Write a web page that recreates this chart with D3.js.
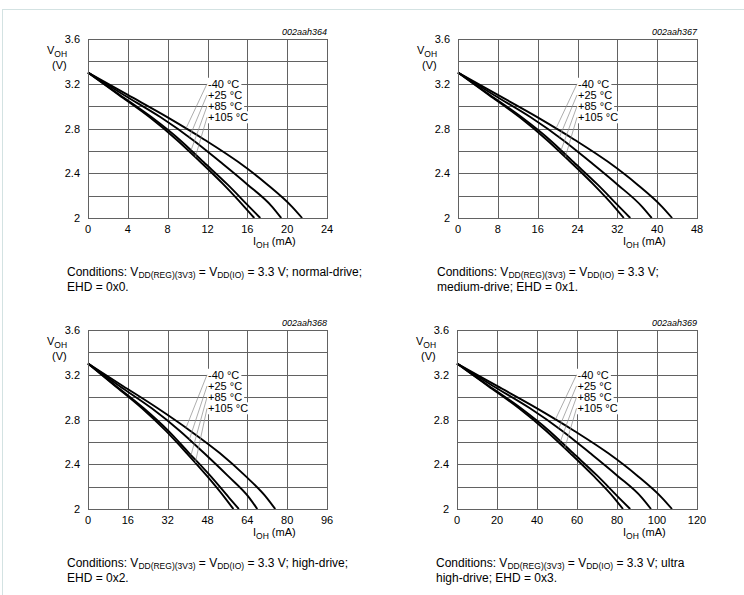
<!DOCTYPE html>
<html>
<head>
<meta charset="utf-8">
<script src="https://cdn.jsdelivr.net/npm/d3@7"></script>
<style>
  body { margin: 0; background: #fff; }
  svg text { font-family: Arial, "Liberation Sans", sans-serif; fill: #000; }
</style>
</head>
<body>
<div id="chart"></div>
<script>
var vLevels = [3.3, 3.1, 2.9, 2.7, 2.5, 2.3, 2.1, 2.0];
var temps = ["-40 °C", "+25 °C", "+85 °C", "+105 °C"];

// I_OH (mA) at each voltage level, one row per temperature
var normalI = [
  [0, 4.0, 8.0, 11.7, 15.1, 18.0, 20.5, 21.5],
  [0, 3.6, 7.3, 10.5, 13.3, 16.0, 18.5, 19.4],
  [0, 3.2, 6.4, 9.2, 11.6, 14.0, 16.2, 17.3],
  [0, 3.1, 6.2, 8.9, 11.3, 13.6, 15.7, 16.7]
];
var mediumI = [
  [0, 8.0, 16.0, 23.4, 30.2, 36.0, 41.0, 43.0],
  [0, 7.2, 14.6, 21.0, 26.6, 32.0, 37.0, 38.9],
  [0, 6.4, 12.8, 18.4, 23.2, 28.0, 32.4, 34.6],
  [0, 6.2, 12.4, 17.8, 22.6, 27.2, 31.4, 33.3]
];
var highI = [
  [0, 14.0, 28.0, 41.0, 52.9, 63.0, 71.8, 75.2],
  [0, 12.6, 25.6, 36.8, 46.6, 56.0, 64.8, 68.0],
  [0, 11.2, 22.4, 32.2, 40.6, 49.0, 56.7, 60.6],
  [0, 10.9, 21.7, 31.2, 39.6, 47.6, 55.0, 58.4]
];
var ultraI = [
  [0, 20.0, 40.0, 58.5, 75.5, 90.0, 102.5, 107.5],
  [0, 18.0, 36.5, 52.5, 66.5, 80.0, 92.5, 97.0],
  [0, 16.0, 32.0, 46.0, 58.0, 70.0, 81.0, 86.6],
  [0, 15.5, 31.0, 44.5, 56.5, 68.0, 78.5, 83.0]
];

var chartIds = ["002aah364", "002aah367", "002aah368", "002aah369"];
var xMax = [24, 48, 96, 120];
var xStep = [4, 8, 16, 20];
var yTicks = [2, 2.4, 2.8, 3.2, 3.6];
var yGrid = [2, 2.2, 2.4, 2.6, 2.8, 3.0, 3.2, 3.4, 3.6];
var labelV = [3.2, 3.1, 3.0, 2.9];
var leaderAt = [0.41, 0.424, 0.431, 0.449];   // where leaders touch curves (fraction of x axis)

var capLine1End = ["= 3.3 V; normal-drive;", "= 3.3 V;", "= 3.3 V; high-drive;", "= 3.3 V; ultra"];
var capLine2 = ["EHD = 0x0.", "medium-drive; EHD = 0x1.", "EHD = 0x2.", "high-drive; EHD = 0x3."];

var allI = [normalI, mediumI, highI, ultraI];

// plot boxes
var boxes = [
  {left: 88, right: 327, top: 39, bottom: 218},
  {left: 458, right: 697, top: 39, bottom: 218},
  {left: 88, right: 327, top: 330, bottom: 509},
  {left: 457, right: 697, top: 330, bottom: 509}
];

var svg = d3.select("#chart").append("svg")
  .attr("width", 744)
  .attr("height", 595);

// light page frame
svg.append("rect")
  .attr("x", 2.5).attr("y", 9.5)
  .attr("width", 800).attr("height", 700)
  .attr("fill", "none")
  .attr("stroke", "#d3e2e2")
  .attr("stroke-width", 1);

// V at a given current on a curve (linear between read points)
function vAt(currents, I) {
  for (var k = 0; k < currents.length - 1; k++) {
    if (I >= currents[k] && I <= currents[k + 1]) {
      var t = (I - currents[k]) / (currents[k + 1] - currents[k]);
      return vLevels[k] + t * (vLevels[k + 1] - vLevels[k]);
    }
  }
  return vLevels[vLevels.length - 1];
}

function drawChart(n) {
  var b = boxes[n];
  var x = d3.scaleLinear().domain([0, xMax[n]]).range([b.left, b.right]);
  var y = d3.scaleLinear().domain([2, 3.6]).range([b.bottom, b.top]);
  var g = svg.append("g");

  var xTicks = d3.range(0, xMax[n] + 0.001, xStep[n]);

  // grid
  g.selectAll(".hg").data(yGrid).enter().append("line")
    .attr("x1", b.left).attr("x2", b.right)
    .attr("y1", d => Math.round(y(d)) + 0.5).attr("y2", d => Math.round(y(d)) + 0.5)
    .attr("stroke", "#626262").attr("stroke-width", 1);
  g.selectAll(".vg").data(xTicks).enter().append("line")
    .attr("y1", b.top).attr("y2", b.bottom)
    .attr("x1", d => Math.round(x(d)) + 0.5).attr("x2", d => Math.round(x(d)) + 0.5)
    .attr("stroke", "#626262").attr("stroke-width", 1);

  // tick labels
  g.selectAll(".yt").data(yTicks).enter().append("text")
    .attr("x", b.left - 8).attr("y", d => y(d) + 4)
    .attr("text-anchor", "end")
    .attr("font-size", 11)
    .text(d => d3.format("~g")(d));
  g.selectAll(".xt").data(xTicks).enter().append("text")
    .attr("x", d => x(d)).attr("y", b.bottom + 15)
    .attr("text-anchor", "middle")
    .attr("font-size", 11)
    .text(d => d);

  // axis titles
  var yl = g.append("text").attr("x", b.left - 41).attr("y", b.top + 15).attr("font-size", 11);
  yl.append("tspan").text("V");
  yl.append("tspan").attr("font-size", 8.5).attr("dy", 2.5).text("OH");
  g.append("text").attr("x", b.left - 36).attr("y", b.top + 30).attr("font-size", 11).text("(V)");

  var xl = g.append("text").attr("x", b.right - 74).attr("y", b.bottom + 27).attr("font-size", 11);
  xl.append("tspan").text("I");
  xl.append("tspan").attr("font-size", 8.5).attr("dy", 3).text("OH");
  xl.append("tspan").attr("dy", -3).text(" (mA)");

  // chart id
  g.append("text")
    .attr("x", b.right).attr("y", b.top - 4)
    .attr("text-anchor", "end")
    .attr("font-size", 9)
    .attr("font-style", "italic")
    .text(chartIds[n]);

  // curves
  var curves = allI[n];
  var line = d3.line()
    .x(d => x(d[0]))
    .y(d => y(d[1]))
    .curve(d3.curveMonotoneX);
  curves.forEach(function(cur) {
    var pts = cur.map((c, k) => [c, vLevels[k]]);
    g.append("path")
      .attr("d", line(pts))
      .attr("fill", "none")
      .attr("stroke", "#000")
      .attr("stroke-width", 1.9);
  });

  // temperature labels with leaders
  var lx = b.left + 0.498 * (b.right - b.left);
  temps.forEach(function(t, k) {
    var cy = y(labelV[k]);
    var txt = g.append("text")
      .attr("x", lx + 1).attr("y", cy + 4)
      .attr("font-size", 11)
      .text(t);
    var bb = txt.node().getBBox();
    g.insert("rect", function() { return txt.node(); })
      .attr("x", bb.x - 1).attr("y", bb.y)
      .attr("width", bb.width + 3).attr("height", bb.height)
      .attr("fill", "#fff");
    var I = leaderAt[k] * xMax[n];
    g.append("line")
      .attr("x1", lx).attr("y1", cy)
      .attr("x2", x(I)).attr("y2", y(vAt(curves[k], I)))
      .attr("stroke", "#8a8a8a")
      .attr("stroke-width", 0.7);
  });

  // plot frame
  g.append("rect")
    .attr("x", b.left + 0.5).attr("y", Math.round(b.top) + 0.5)
    .attr("width", b.right - b.left).attr("height", b.bottom - b.top)
    .attr("fill", "none").attr("stroke", "#626262");

  // caption
  var cx = b.left - 21;
  var c1 = g.append("text").attr("x", cx).attr("y", b.bottom + 57.5).attr("font-size", 12);
  c1.append("tspan").text("Conditions: V");
  c1.append("tspan").attr("font-size", 8.5).attr("dy", 2.5).text("DD(REG)(3V3)");
  c1.append("tspan").attr("dy", -2.5).text(" = V");
  c1.append("tspan").attr("font-size", 8.5).attr("dy", 2.5).text("DD(IO)");
  c1.append("tspan").attr("dy", -2.5).text(" " + capLine1End[n]);
  g.append("text").attr("x", cx).attr("y", b.bottom + 73).attr("font-size", 12).text(capLine2[n]);
}

for (var n = 0; n < 4; n++) {
  drawChart(n);
}
</script>
</body>
</html>
